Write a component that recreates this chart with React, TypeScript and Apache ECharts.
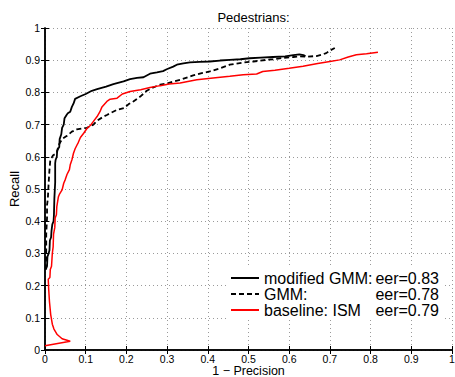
import React, { useEffect, useRef } from "react";
import * as echarts from "echarts";

const FONT = "'Liberation Sans', Arial, Helvetica, sans-serif";

const titleText = "Pedestrians:";
const xAxisName = "1 \u2212 Precision";
const yAxisName = "Recall";

const seriesNames = ["modified GMM:", "GMM:", "baseline: ISM"];
const eerLabels = ["eer=0.83", "eer=0.78", "eer=0.79"];

// modified GMM (black solid)
const modX = [0.002, 0.005, 0.006, 0.009, 0.011, 0.012, 0.015, 0.016, 0.018, 0.021, 0.022, 0.023, 0.025, 0.025, 0.026, 0.029, 0.03, 0.035, 0.036, 0.04, 0.042, 0.046, 0.048, 0.053, 0.056, 0.062, 0.066, 0.07, 0.074, 0.087, 0.1, 0.115, 0.128, 0.15, 0.168, 0.193, 0.209, 0.226, 0.242, 0.258, 0.275, 0.29, 0.299, 0.315, 0.324, 0.34, 0.356, 0.38, 0.405, 0.43, 0.454, 0.48, 0.503, 0.53, 0.56, 0.59, 0.61, 0.625, 0.635, 0.64];
const modY = [0.25, 0.26, 0.29, 0.3, 0.31, 0.34, 0.35, 0.37, 0.39, 0.4, 0.42, 0.47, 0.52, 0.58, 0.59, 0.6, 0.62, 0.63, 0.655, 0.67, 0.69, 0.7, 0.72, 0.73, 0.735, 0.74, 0.755, 0.765, 0.78, 0.788, 0.795, 0.805, 0.81, 0.818, 0.826, 0.834, 0.841, 0.845, 0.847, 0.858, 0.862, 0.866, 0.872, 0.88, 0.886, 0.89, 0.893, 0.895, 0.896, 0.899, 0.901, 0.903, 0.906, 0.908, 0.91, 0.912, 0.916, 0.918, 0.916, 0.912];

// GMM (black dashed)
const gmmX = [0.002, 0.003, 0.003, 0.005, 0.005, 0.007, 0.009, 0.011, 0.013, 0.02, 0.029, 0.033, 0.042, 0.054, 0.066, 0.078, 0.09, 0.103, 0.119, 0.128, 0.144, 0.152, 0.177, 0.195, 0.205, 0.217, 0.234, 0.25, 0.265, 0.283, 0.3, 0.315, 0.332, 0.364, 0.385, 0.405, 0.43, 0.454, 0.49, 0.512, 0.544, 0.56, 0.585, 0.61, 0.626, 0.645, 0.667, 0.68, 0.691, 0.7, 0.712];
const gmmY = [0.25, 0.3, 0.36, 0.41, 0.45, 0.47, 0.52, 0.56, 0.59, 0.605, 0.611, 0.635, 0.655, 0.665, 0.678, 0.685, 0.688, 0.69, 0.7, 0.712, 0.725, 0.73, 0.746, 0.752, 0.763, 0.772, 0.787, 0.805, 0.815, 0.824, 0.828, 0.834, 0.839, 0.853, 0.86, 0.865, 0.875, 0.886, 0.893, 0.896, 0.901, 0.903, 0.907, 0.91, 0.912, 0.911, 0.913, 0.917, 0.922, 0.93, 0.938];

// baseline: ISM (red)
const ismX = [0, 0.062, 0.042, 0.03, 0.022, 0.018, 0.014, 0.011, 0.009, 0.008, 0.012, 0.013, 0.016, 0.018, 0.02, 0.021, 0.024, 0.025, 0.028, 0.029, 0.033, 0.036, 0.042, 0.046, 0.05, 0.054, 0.06, 0.062, 0.066, 0.07, 0.074, 0.078, 0.082, 0.087, 0.095, 0.103, 0.112, 0.119, 0.128, 0.135, 0.14, 0.152, 0.16, 0.177, 0.19, 0.209, 0.235, 0.258, 0.283, 0.305, 0.332, 0.373, 0.413, 0.454, 0.487, 0.52, 0.535, 0.565, 0.6, 0.634, 0.67, 0.7, 0.724, 0.745, 0.765, 0.79, 0.818];
const ismY = [0.013, 0.027, 0.035, 0.048, 0.065, 0.08, 0.11, 0.15, 0.19, 0.22, 0.225, 0.25, 0.26, 0.3, 0.32, 0.36, 0.38, 0.41, 0.42, 0.445, 0.476, 0.485, 0.497, 0.518, 0.53, 0.545, 0.56, 0.575, 0.59, 0.611, 0.625, 0.635, 0.645, 0.66, 0.673, 0.688, 0.698, 0.71, 0.725, 0.74, 0.755, 0.772, 0.779, 0.782, 0.795, 0.803, 0.808, 0.815, 0.821, 0.826, 0.829, 0.839, 0.845, 0.85, 0.855, 0.857, 0.865, 0.869, 0.875, 0.881, 0.89, 0.896, 0.901, 0.91, 0.917, 0.92, 0.925];

const zip = (xs: number[], ys: number[]) => xs.map((x, i) => [x, ys[i]]);

const tickFmt = (v: number) => {
  const r = Math.round(v * 10) / 10;
  if (r === 0) return "0";
  if (r === 1) return "1";
  return r.toFixed(1);
};

export default function App() {
  const ref = useRef<HTMLDivElement>(null);
  useEffect(() => {
    if (!ref.current) return;
    const chart = echarts.init(ref.current, undefined, { renderer: "svg" });
    const axisLine = { show: true, lineStyle: { color: "#000", width: 1.5 } };
    const tick = { show: true, inside: true, length: 4, lineStyle: { color: "#000", width: 1 } };
    const split = { show: true, lineStyle: { color: "#9a9a9a", type: [1, 3], width: 1 } };
    const labelStyle = { color: "#000", fontFamily: FONT, fontSize: 10.5, lineHeight: 11 };
    const mk = (name: string, data: number[][], color: string, dashed: boolean, width: number) => ({
      name,
      type: "line",
      data,
      showSymbol: false,
      symbol: "none",
      xAxisIndex: 0,
      yAxisIndex: 0,
      lineStyle: { color, width, type: dashed ? [5, 3] : "solid" },
      itemStyle: { color },
      z: 3,
    });
    chart.setOption({
      animation: false,
      backgroundColor: "#fff",
      title: {
        text: titleText,
        left: 248.5,
        textAlign: "center",
        top: 6,
        textStyle: { fontFamily: FONT, fontSize: 13, fontWeight: "normal", color: "#000" },
      },
      grid: { left: 45, right: 3, top: 28, bottom: 27, show: false, outerBoundsMode: "none", containLabel: false },
      legend: {
        orient: "vertical",
        left: 226,
        top: 268,
        backgroundColor: "#fff",
        padding: [2, 4, 2, 4],
        itemGap: 0,
        itemWidth: 28,
        itemHeight: 14,
        itemStyle: { opacity: 0, borderWidth: 0 },
        data: seriesNames,
        textStyle: {
          fontFamily: FONT,
          fontSize: 16,
          color: "#000",
          lineHeight: 16,
          rich: {
            a: { fontFamily: FONT, fontSize: 16, color: "#000", width: 109, lineHeight: 16 },
            b: { fontFamily: FONT, fontSize: 16, color: "#000", width: 66, align: "right", lineHeight: 16 },
          },
        },
        formatter: (name: string) => {
          const i = seriesNames.indexOf(name);
          return `{a|${name}}{b|${eerLabels[i]}}`;
        },
      },
      xAxis: [
        {
          type: "value",
          min: 0,
          max: 1,
          interval: 0.1,
          position: "bottom",
          name: xAxisName,
          nameLocation: "middle",
          nameGap: 14.5,
          nameMoveOverlap: false,
          nameTextStyle: { fontFamily: FONT, fontSize: 12.5, lineHeight: 12, color: "#000" },
          axisLine,
          axisTick: tick,
          axisLabel: { ...labelStyle, margin: 3.5, formatter: tickFmt },
          splitLine: split,
        },
        {
          type: "value",
          min: 0,
          max: 1,
          interval: 0.1,
          position: "top",
          axisLine,
          axisTick: tick,
          axisLabel: { show: false },
          splitLine: { show: false },
        },
      ],
      yAxis: [
        {
          type: "value",
          min: 0,
          max: 1,
          interval: 0.1,
          position: "left",
          name: yAxisName,
          nameLocation: "middle",
          nameGap: 24,
          nameMoveOverlap: false,
          nameRotate: 90,
          nameTextStyle: { fontFamily: FONT, fontSize: 13, color: "#000" },
          axisLine,
          axisTick: tick,
          axisLabel: { ...labelStyle, margin: 5, formatter: tickFmt },
          splitLine: split,
        },
        {
          type: "value",
          min: 0,
          max: 1,
          interval: 0.1,
          position: "right",
          axisLine,
          axisTick: tick,
          axisLabel: { show: false },
          splitLine: { show: false },
        },
      ],
      series: [
        mk(seriesNames[0], zip(modX, modY), "#000", false, 1.8),
        mk(seriesNames[1], zip(gmmX, gmmY), "#000", true, 1.8),
        mk(seriesNames[2], zip(ismX, ismY), "#ff0000", false, 1.5),
      ],
    });
    return () => chart.dispose();
  }, []);
  return (
    <div
      ref={ref}
      style={{ position: "fixed", left: 0, top: 0, width: 455, height: 377 }}
    />
  );
}
